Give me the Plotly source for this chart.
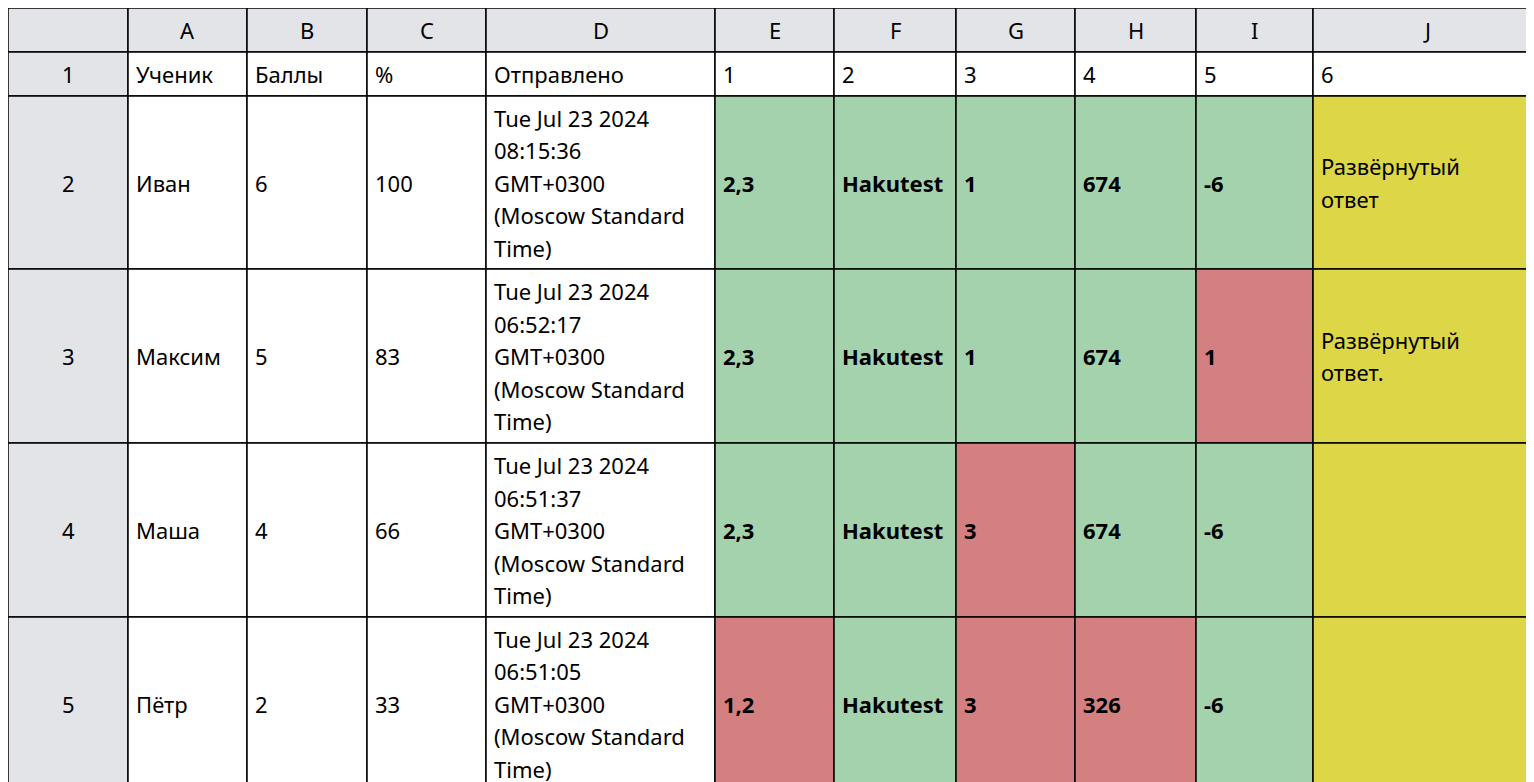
import plotly.graph_objects as go

col_letters = ["", "A", "B", "C", "D", "E", "F", "G", "H", "I", "J"]
row_numbers = ["1", "2", "3", "4", "5"]
header_row = ["Ученик", "Баллы", "%", "Отправлено", "1", "2", "3", "4", "5", "6"]
students = ["Иван", "Максим", "Маша", "Пётр"]
scores = ["6", "5", "4", "2"]
percents = ["100", "83", "66", "33"]
sent = ["Tue Jul 23 2024\n08:15:36\nGMT+0300\n(Moscow Standard\nTime)",
        "Tue Jul 23 2024\n06:52:17\nGMT+0300\n(Moscow Standard\nTime)",
        "Tue Jul 23 2024\n06:51:37\nGMT+0300\n(Moscow Standard\nTime)",
        "Tue Jul 23 2024\n06:51:05\nGMT+0300\n(Moscow Standard\nTime)"]
answers = [["2,3", "Hakutest", "1", "674", "-6"],
           ["2,3", "Hakutest", "1", "674", "1"],
           ["2,3", "Hakutest", "3", "674", "-6"],
           ["1,2", "Hakutest", "3", "326", "-6"]]
correct = [[1, 1, 1, 1, 1],
           [1, 1, 1, 1, 0],
           [1, 1, 0, 1, 1],
           [0, 1, 0, 0, 1]]
essay = ["Развёрнутый\nответ", "Развёрнутый\nответ.", "", ""]

col_edges = [0, 120, 239, 359, 478, 707, 826, 948, 1067, 1188, 1305, 1533]
row_edges = [0, 44, 88, 261, 435, 609, 782]

GRAY = "rgb(227,228,232)"
GREEN = "rgb(164,210,172)"
RED = "rgb(213,128,128)"
YELLOW = "rgb(221,214,70)"
LINE_H = 32.5

shapes = []
annotations = []


def cell(c, r, text, fill, center=False, bold=False):
    x0, x1 = col_edges[c], col_edges[c + 1]
    y0, y1 = row_edges[r], row_edges[r + 1]
    shapes.append(dict(type="rect", x0=x0, x1=x1, y0=y0, y1=y1, fillcolor=fill,
                       line=dict(color="black", width=1.5), layer="below"))
    lines = text.split("\n") if text else []
    ym = (y0 + y1) / 2
    n = len(lines)
    for i, ln in enumerate(lines):
        annotations.append(dict(
            x=(x0 + x1) / 2 if center else x0 + 6,
            y=ym + (i - (n - 1) / 2) * LINE_H,
            text="<b>%s</b>" % ln if bold else ln,
            xanchor="center" if center else "left", yanchor="middle",
            showarrow=False, font=dict(size=22, color="black")))


for c, lt in enumerate(col_letters):
    cell(c, 0, lt, GRAY, center=True)
cell(0, 1, row_numbers[0], GRAY, center=True)
for c, t in enumerate(header_row):
    cell(c + 1, 1, t, "white")
for i in range(len(students)):
    r = i + 2
    cell(0, r, row_numbers[i + 1], GRAY, center=True)
    cell(1, r, students[i], "white")
    cell(2, r, scores[i], "white")
    cell(3, r, percents[i], "white")
    cell(4, r, sent[i], "white")
    for j, a in enumerate(answers[i]):
        cell(5 + j, r, a, GREEN if correct[i][j] else RED, bold=True)
    cell(10, r, essay[i], YELLOW)

fig = go.Figure()
fig.update_layout(
    width=1534, height=782, margin=dict(l=0, r=0, t=0, b=0),
    paper_bgcolor="white", plot_bgcolor="white",
    font=dict(family="Noto Sans"),
    xaxis=dict(range=[0, 1534], visible=False, fixedrange=True),
    yaxis=dict(range=[782, 0], visible=False, fixedrange=True),
    shapes=shapes, annotations=annotations, showlegend=False)
fig.write_html("out.html")
